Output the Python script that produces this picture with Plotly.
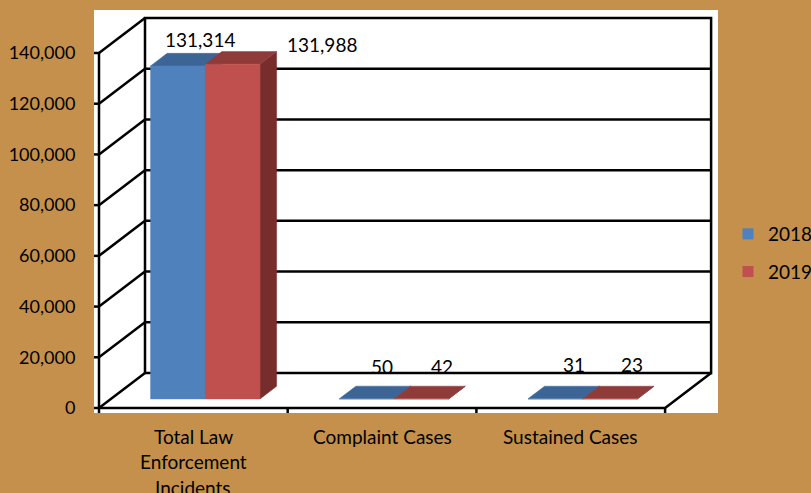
import plotly.graph_objects as go

# ---------------- data ----------------
categories = ["Total Law<br>Enforcement<br>Incidents", "Complaint Cases", "Sustained Cases"]
series_names = ["2018", "2019"]
values_2018 = [131314, 50, 31]
values_2019 = [131988, 42, 23]
y_ticks = [0, 20000, 40000, 60000, 80000, 100000, 120000, 140000]

# ---------------- style / geometry ----------------
W, H = 811, 493
PAPER = "#C4904B"
FRONT = ["#4F81BD", "#C0504D"]
TOP = ["#3C6596", "#8E3B3A"]
SIDE = ["#345783", "#772D2C"]
FONT = "Lato"
FS = 19

PLOT_L, PLOT_R, PLOT_T, PLOT_B = 94, 718, 10, 413   # white plot area (px)
AX_X0, AX_Y0 = 99, 408                               # front axis corner (px)
CAT_PX = 188.7                                       # px per category
VAL_PX = 355.0 / 140000                              # px per value unit
DEPTH_X_PX, DEPTH_Y_PX = 46, 35                      # 3-D depth offset (px)
BAR_W = 0.29                                         # bar width (category units)
DF, DB = 0.26, 0.62                                  # bar depth span (fraction)
TICK_PX = 5

XR = [-0.5 - (AX_X0 - PLOT_L) / CAT_PX, -0.5 + (PLOT_R - AX_X0) / CAT_PX]
YR = [-(PLOT_B - AX_Y0) / VAL_PX, (AX_Y0 - PLOT_T) / VAL_PX]
DX = DEPTH_X_PX / CAT_PX
DY = DEPTH_Y_PX / VAL_PX


def P(x, v, d):
    return x + d * DX, v + d * DY


def ypaper(px):
    return (PLOT_B - px) / (PLOT_B - PLOT_T)


series_values = [values_2018, values_2019]
n = len(categories)
x_lo, x_hi = -0.5, n - 0.5
ymax = y_ticks[-1]

fig = go.Figure()

# ---------------- frame ----------------
fx, fy = [], []


def seg(points):
    for p in points:
        fx.append(p[0])
        fy.append(p[1])
    fx.append(None)
    fy.append(None)


seg([P(x_lo, 0, 1), P(x_lo, ymax, 1), P(x_hi, ymax, 1), P(x_hi, 0, 1), P(x_lo, 0, 1)])
for t in y_ticks[1:-1]:
    seg([P(x_lo, t, 1), P(x_hi, t, 1)])
for t in y_ticks:
    seg([P(x_lo, t, 0), P(x_lo, t, 1)])
    seg([(x_lo - TICK_PX / CAT_PX, t), (x_lo, t)])
seg([P(x_lo, ymax, 0), P(x_lo, 0, 0), P(x_hi, 0, 0), P(x_hi, 0, 1)])
for k in range(n + 1):
    seg([(x_lo + k, 0), (x_lo + k, -TICK_PX / VAL_PX)])

fig.add_trace(go.Scatter(x=fx, y=fy, mode="lines", line=dict(color="black", width=2.5),
                         showlegend=False, hoverinfo="skip"))

# ---------------- bars ----------------
for i in range(n):
    for s, vals in enumerate(series_values):
        v = vals[i]
        x0 = i - BAR_W + s * BAR_W
        x1 = x0 + BAR_W
        faces = [
            ([P(x1, 0, DF), P(x1, 0, DB), P(x1, v, DB), P(x1, v, DF)], SIDE[s]),
            ([P(x0, v, DF), P(x1, v, DF), P(x1, v, DB), P(x0, v, DB)], TOP[s]),
            ([P(x0, 0, DF), P(x1, 0, DF), P(x1, v, DF), P(x0, v, DF)], FRONT[s]),
        ]
        for pts, col in faces:
            xs = [p[0] for p in pts] + [pts[0][0]]
            ys = [p[1] for p in pts] + [pts[0][1]]
            fig.add_trace(go.Scatter(x=xs, y=ys, mode="lines", fill="toself", fillcolor=col,
                                     line=dict(color=col, width=0.5), showlegend=False,
                                     hoverinfo="skip"))

# ---------------- data labels ----------------
label_shift = [[(5, 14), (-1, 20), (2, 22)],
               [(73, 7), (4, 20), (5, 22)]]
for s, vals in enumerate(series_values):
    for i, v in enumerate(vals):
        x0 = i - BAR_W + s * BAR_W
        cx, cy = P(x0 + BAR_W / 2, v, DB)
        dx, dy = label_shift[s][i]
        fig.add_annotation(x=cx, y=cy, text=f"{v:,}", showarrow=False, xanchor="center",
                           yanchor="middle", xshift=dx, yshift=dy,
                           font=dict(family=FONT, size=FS, color="black"))

# ---------------- category labels ----------------
for i, cat in enumerate(categories):
    for k, line in enumerate(cat.split("<br>")):
        fig.add_annotation(x=i, y=ypaper(437 + 25 * k), xref="x", yref="paper", text=line,
                           showarrow=False, xanchor="center", yanchor="middle",
                           font=dict(family=FONT, size=FS, color="black"))

# ---------------- legend ----------------
for s, name in enumerate(series_names):
    fig.add_trace(go.Scatter(x=[None], y=[None], mode="markers", name=name, legendgroup=name,
                             marker=dict(symbol="square", size=11, color=FRONT[s])))

fig.update_layout(
    width=W, height=H,
    margin=dict(l=PLOT_L, r=W - PLOT_R, t=PLOT_T, b=H - PLOT_B, pad=0, autoexpand=False),
    paper_bgcolor=PAPER, plot_bgcolor="white",
    font=dict(family=FONT, size=FS, color="black"),
    showlegend=True,
    legend=dict(x=(728 - PLOT_L) / (PLOT_R - PLOT_L), xanchor="left",
                y=ypaper(215), yanchor="top", bgcolor="rgba(0,0,0,0)",
                tracegroupgap=10, itemwidth=30, font=dict(family=FONT, size=FS)),
    xaxis=dict(range=XR, showgrid=False, zeroline=False, showticklabels=False,
               showline=False, ticks="", fixedrange=True),
    yaxis=dict(range=YR, tickvals=y_ticks, tickformat=",", showgrid=False, zeroline=False,
               showline=False, ticks="outside", ticklen=14, tickcolor=PAPER,
               tickfont=dict(family=FONT, size=18, color="black"), fixedrange=True),
)

fig.write_html("out.html", config={"displayModeBar": False},
               post_script="document.body.style.margin='0';document.body.style.overflow='hidden';")
